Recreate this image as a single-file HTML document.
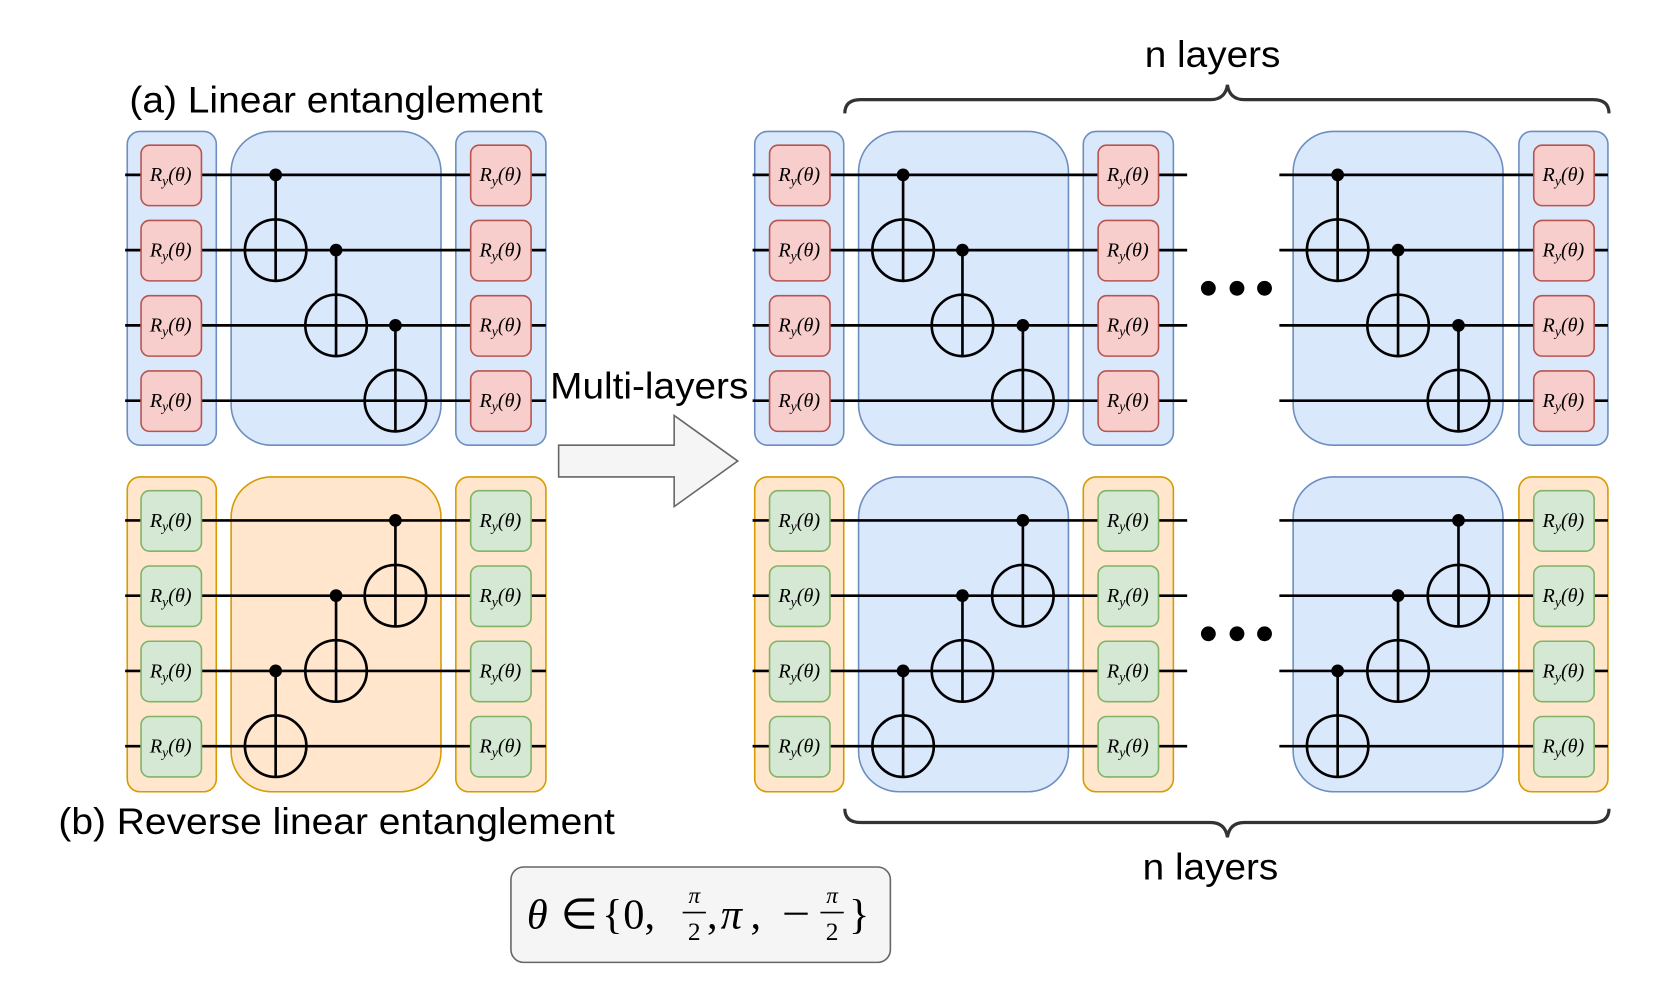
<!DOCTYPE html>
<html><head><meta charset="utf-8"><style>
html,body{margin:0;padding:0;background:#fff;width:1661px;height:991px;overflow:hidden}
svg{display:block}
.t{font-family:"Liberation Sans",sans-serif;font-size:35px;fill:#000}
.g{font-family:"Liberation Serif",serif;font-style:italic;font-size:19px;fill:#000}
.s{font-size:13px}
.bb{fill:#dae8fc;stroke:#6c8ebf;stroke-width:1.5}
.ob{fill:#ffe6cc;stroke:#d79b00;stroke-width:1.5}
.rg{fill:#f8cecc;stroke:#b85450;stroke-width:1.5}
.gg{fill:#d5e8d4;stroke:#82b366;stroke-width:1.5}
.w{stroke:#000;stroke-width:2.5;fill:none}
</style></head><body>
<svg width="1661" height="991" viewBox="0 0 1567 935" xmlns="http://www.w3.org/2000/svg">
<!-- Titles -->
<text class="t" x="122" y="106" textLength="390" lengthAdjust="spacingAndGlyphs">(a) Linear entanglement</text>
<text class="t" x="55" y="787" textLength="525" lengthAdjust="spacingAndGlyphs">(b) Reverse linear entanglement</text>
<text class="t" x="519" y="376" textLength="187" lengthAdjust="spacingAndGlyphs">Multi-layers</text>
<text class="t" x="1080" y="63" textLength="128" lengthAdjust="spacingAndGlyphs">n layers</text>
<text class="t" x="1078" y="830" textLength="128" lengthAdjust="spacingAndGlyphs">n layers</text>
<!-- Braces -->
<path d="M797 107 Q797 94 812 94 L1142 94 Q1156 94 1158 80 Q1160 94 1174 94 L1503 94 Q1518 94 1518 107" fill="none" stroke="#333" stroke-width="3"/>
<path d="M797 763 Q797 776 812 776 L1142 776 Q1156 776 1158 790 Q1160 776 1174 776 L1503 776 Q1518 776 1518 763" fill="none" stroke="#333" stroke-width="3"/>
<!-- Arrow -->
<path d="M527 420 L636 420 L636 392 L696 435 L636 478 L636 450 L527 450 Z" fill="#f5f5f5" stroke="#666" stroke-width="1.5"/>
<!-- Formula -->
<rect x="482" y="818" width="358" height="90" rx="12" fill="#f5f5f5" stroke="#666" stroke-width="1.5"/>
<g font-family="Liberation Serif,serif" font-size="40" fill="#000">
<text x="497" y="876" font-style="italic">θ</text>
<text x="529" y="876">∈</text>
<text x="568" y="876">{</text>
<text x="588" y="876">0,</text>
<text x="655" y="852" font-size="22" text-anchor="middle" font-style="italic">π</text>
<line x1="644" y1="861" x2="666" y2="861" stroke="#000" stroke-width="1.5"/>
<text x="655" y="887" font-size="24" text-anchor="middle">2</text>
<text x="667" y="876">,</text>
<text x="680" y="876" font-style="italic">π</text>
<text x="708" y="876">,</text>
<line x1="740" y1="862" x2="762" y2="862" stroke="#000" stroke-width="2"/>
<text x="785" y="852" font-size="22" text-anchor="middle" font-style="italic">π</text>
<line x1="774" y1="861" x2="796" y2="861" stroke="#000" stroke-width="1.5"/>
<text x="785" y="887" font-size="24" text-anchor="middle">2</text>
<text x="801" y="876">}</text>
</g>

<!-- Column boxes -->
<rect class="bb" x="120" y="124" width="84" height="296" rx="12"/>
<rect class="bb" x="218" y="124" width="198" height="296" rx="38"/>
<rect class="bb" x="430" y="124" width="85" height="296" rx="12"/>
<rect class="ob" x="120" y="450" width="84" height="297" rx="12"/>
<rect class="ob" x="218" y="450" width="198" height="297" rx="38"/>
<rect class="ob" x="430" y="450" width="85" height="297" rx="12"/>

<rect class="bb" x="712" y="124" width="84" height="296" rx="12"/>
<rect class="bb" x="810" y="124" width="198" height="296" rx="38"/>
<rect class="bb" x="1022" y="124" width="85" height="296" rx="12"/>
<rect class="bb" x="1220" y="124" width="198" height="296" rx="38"/>
<rect class="bb" x="1433" y="124" width="84" height="296" rx="12"/>
<rect class="ob" x="712" y="450" width="84" height="297" rx="12"/>
<rect class="bb" x="810" y="450" width="198" height="297" rx="38"/>
<rect class="ob" x="1022" y="450" width="85" height="297" rx="12"/>
<rect class="bb" x="1220" y="450" width="198" height="297" rx="38"/>
<rect class="ob" x="1433" y="450" width="84" height="297" rx="12"/>

<!-- Wires -->
<path class="w" d="M118 165H515M118 236H515M118 307H515M118 378H515M118 491H515M118 562H515M118 633H515M118 704H515
M710 165H1120M710 236H1120M710 307H1120M710 378H1120M710 491H1120M710 562H1120M710 633H1120M710 704H1120
M1207 165H1517M1207 236H1517M1207 307H1517M1207 378H1517M1207 491H1517M1207 562H1517M1207 633H1517M1207 704H1517"/>

<!-- Dots -->
<g fill="#000"><circle cx="1140" cy="272" r="7"/><circle cx="1167" cy="272" r="7"/><circle cx="1193" cy="272" r="7"/>
<circle cx="1140" cy="598" r="7"/><circle cx="1167" cy="598" r="7"/><circle cx="1193" cy="598" r="7"/></g>

<g class="w" fill="none">
<path d="M260 165V265M317 236V336M373 307V407"/><circle cx="260" cy="236" r="29"/><circle cx="317" cy="307" r="29"/><circle cx="373" cy="378" r="29"/>
<path d="M852 165V265M908 236V336M965 307V407"/><circle cx="852" cy="236" r="29"/><circle cx="908" cy="307" r="29"/><circle cx="965" cy="378" r="29"/>
<path d="M1262 165V265M1319 236V336M1376 307V407"/><circle cx="1262" cy="236" r="29"/><circle cx="1319" cy="307" r="29"/><circle cx="1376" cy="378" r="29"/>
<path d="M260 633V733M317 562V662M373 491V591"/><circle cx="260" cy="704" r="29"/><circle cx="317" cy="633" r="29"/><circle cx="373" cy="562" r="29"/>
<path d="M852 633V733M908 562V662M965 491V591"/><circle cx="852" cy="704" r="29"/><circle cx="908" cy="633" r="29"/><circle cx="965" cy="562" r="29"/>
<path d="M1262 633V733M1319 562V662M1376 491V591"/><circle cx="1262" cy="704" r="29"/><circle cx="1319" cy="633" r="29"/><circle cx="1376" cy="562" r="29"/>
</g>
<g fill="#000">
<circle cx="260" cy="165" r="6"/><circle cx="317" cy="236" r="6"/><circle cx="373" cy="307" r="6"/>
<circle cx="852" cy="165" r="6"/><circle cx="908" cy="236" r="6"/><circle cx="965" cy="307" r="6"/>
<circle cx="1262" cy="165" r="6"/><circle cx="1319" cy="236" r="6"/><circle cx="1376" cy="307" r="6"/>
<circle cx="260" cy="633" r="6"/><circle cx="317" cy="562" r="6"/><circle cx="373" cy="491" r="6"/>
<circle cx="852" cy="633" r="6"/><circle cx="908" cy="562" r="6"/><circle cx="965" cy="491" r="6"/>
<circle cx="1262" cy="633" r="6"/><circle cx="1319" cy="562" r="6"/><circle cx="1376" cy="491" r="6"/>
</g>

<g>
<rect class="rg" x="133" y="137" width="57" height="57" rx="8"/><rect class="rg" x="133" y="208" width="57" height="57" rx="8"/><rect class="rg" x="133" y="279" width="57" height="57" rx="8"/><rect class="rg" x="133" y="350" width="57" height="57" rx="8"/>
<rect class="rg" x="444" y="137" width="57" height="57" rx="8"/><rect class="rg" x="444" y="208" width="57" height="57" rx="8"/><rect class="rg" x="444" y="279" width="57" height="57" rx="8"/><rect class="rg" x="444" y="350" width="57" height="57" rx="8"/>
<rect class="rg" x="726" y="137" width="57" height="57" rx="8"/><rect class="rg" x="726" y="208" width="57" height="57" rx="8"/><rect class="rg" x="726" y="279" width="57" height="57" rx="8"/><rect class="rg" x="726" y="350" width="57" height="57" rx="8"/>
<rect class="rg" x="1036" y="137" width="57" height="57" rx="8"/><rect class="rg" x="1036" y="208" width="57" height="57" rx="8"/><rect class="rg" x="1036" y="279" width="57" height="57" rx="8"/><rect class="rg" x="1036" y="350" width="57" height="57" rx="8"/>
<rect class="rg" x="1447" y="137" width="57" height="57" rx="8"/><rect class="rg" x="1447" y="208" width="57" height="57" rx="8"/><rect class="rg" x="1447" y="279" width="57" height="57" rx="8"/><rect class="rg" x="1447" y="350" width="57" height="57" rx="8"/>
<rect class="gg" x="133" y="463" width="57" height="57" rx="8"/><rect class="gg" x="133" y="534" width="57" height="57" rx="8"/><rect class="gg" x="133" y="605" width="57" height="57" rx="8"/><rect class="gg" x="133" y="676" width="57" height="57" rx="8"/>
<rect class="gg" x="444" y="463" width="57" height="57" rx="8"/><rect class="gg" x="444" y="534" width="57" height="57" rx="8"/><rect class="gg" x="444" y="605" width="57" height="57" rx="8"/><rect class="gg" x="444" y="676" width="57" height="57" rx="8"/>
<rect class="gg" x="726" y="463" width="57" height="57" rx="8"/><rect class="gg" x="726" y="534" width="57" height="57" rx="8"/><rect class="gg" x="726" y="605" width="57" height="57" rx="8"/><rect class="gg" x="726" y="676" width="57" height="57" rx="8"/>
<rect class="gg" x="1036" y="463" width="57" height="57" rx="8"/><rect class="gg" x="1036" y="534" width="57" height="57" rx="8"/><rect class="gg" x="1036" y="605" width="57" height="57" rx="8"/><rect class="gg" x="1036" y="676" width="57" height="57" rx="8"/>
<rect class="gg" x="1447" y="463" width="57" height="57" rx="8"/><rect class="gg" x="1447" y="534" width="57" height="57" rx="8"/><rect class="gg" x="1447" y="605" width="57" height="57" rx="8"/><rect class="gg" x="1447" y="676" width="57" height="57" rx="8"/>
</g>
<g class="g" text-anchor="middle">
<text x="161" y="171">R<tspan class="s" dy="4">y</tspan><tspan dy="-4">(θ)</tspan></text><text x="161" y="242">R<tspan class="s" dy="4">y</tspan><tspan dy="-4">(θ)</tspan></text><text x="161" y="313">R<tspan class="s" dy="4">y</tspan><tspan dy="-4">(θ)</tspan></text><text x="161" y="384">R<tspan class="s" dy="4">y</tspan><tspan dy="-4">(θ)</tspan></text>
<text x="472" y="171">R<tspan class="s" dy="4">y</tspan><tspan dy="-4">(θ)</tspan></text><text x="472" y="242">R<tspan class="s" dy="4">y</tspan><tspan dy="-4">(θ)</tspan></text><text x="472" y="313">R<tspan class="s" dy="4">y</tspan><tspan dy="-4">(θ)</tspan></text><text x="472" y="384">R<tspan class="s" dy="4">y</tspan><tspan dy="-4">(θ)</tspan></text>
<text x="754" y="171">R<tspan class="s" dy="4">y</tspan><tspan dy="-4">(θ)</tspan></text><text x="754" y="242">R<tspan class="s" dy="4">y</tspan><tspan dy="-4">(θ)</tspan></text><text x="754" y="313">R<tspan class="s" dy="4">y</tspan><tspan dy="-4">(θ)</tspan></text><text x="754" y="384">R<tspan class="s" dy="4">y</tspan><tspan dy="-4">(θ)</tspan></text>
<text x="1064" y="171">R<tspan class="s" dy="4">y</tspan><tspan dy="-4">(θ)</tspan></text><text x="1064" y="242">R<tspan class="s" dy="4">y</tspan><tspan dy="-4">(θ)</tspan></text><text x="1064" y="313">R<tspan class="s" dy="4">y</tspan><tspan dy="-4">(θ)</tspan></text><text x="1064" y="384">R<tspan class="s" dy="4">y</tspan><tspan dy="-4">(θ)</tspan></text>
<text x="1475" y="171">R<tspan class="s" dy="4">y</tspan><tspan dy="-4">(θ)</tspan></text><text x="1475" y="242">R<tspan class="s" dy="4">y</tspan><tspan dy="-4">(θ)</tspan></text><text x="1475" y="313">R<tspan class="s" dy="4">y</tspan><tspan dy="-4">(θ)</tspan></text><text x="1475" y="384">R<tspan class="s" dy="4">y</tspan><tspan dy="-4">(θ)</tspan></text>
<text x="161" y="497">R<tspan class="s" dy="4">y</tspan><tspan dy="-4">(θ)</tspan></text><text x="161" y="568">R<tspan class="s" dy="4">y</tspan><tspan dy="-4">(θ)</tspan></text><text x="161" y="639">R<tspan class="s" dy="4">y</tspan><tspan dy="-4">(θ)</tspan></text><text x="161" y="710">R<tspan class="s" dy="4">y</tspan><tspan dy="-4">(θ)</tspan></text>
<text x="472" y="497">R<tspan class="s" dy="4">y</tspan><tspan dy="-4">(θ)</tspan></text><text x="472" y="568">R<tspan class="s" dy="4">y</tspan><tspan dy="-4">(θ)</tspan></text><text x="472" y="639">R<tspan class="s" dy="4">y</tspan><tspan dy="-4">(θ)</tspan></text><text x="472" y="710">R<tspan class="s" dy="4">y</tspan><tspan dy="-4">(θ)</tspan></text>
<text x="754" y="497">R<tspan class="s" dy="4">y</tspan><tspan dy="-4">(θ)</tspan></text><text x="754" y="568">R<tspan class="s" dy="4">y</tspan><tspan dy="-4">(θ)</tspan></text><text x="754" y="639">R<tspan class="s" dy="4">y</tspan><tspan dy="-4">(θ)</tspan></text><text x="754" y="710">R<tspan class="s" dy="4">y</tspan><tspan dy="-4">(θ)</tspan></text>
<text x="1064" y="497">R<tspan class="s" dy="4">y</tspan><tspan dy="-4">(θ)</tspan></text><text x="1064" y="568">R<tspan class="s" dy="4">y</tspan><tspan dy="-4">(θ)</tspan></text><text x="1064" y="639">R<tspan class="s" dy="4">y</tspan><tspan dy="-4">(θ)</tspan></text><text x="1064" y="710">R<tspan class="s" dy="4">y</tspan><tspan dy="-4">(θ)</tspan></text>
<text x="1475" y="497">R<tspan class="s" dy="4">y</tspan><tspan dy="-4">(θ)</tspan></text><text x="1475" y="568">R<tspan class="s" dy="4">y</tspan><tspan dy="-4">(θ)</tspan></text><text x="1475" y="639">R<tspan class="s" dy="4">y</tspan><tspan dy="-4">(θ)</tspan></text><text x="1475" y="710">R<tspan class="s" dy="4">y</tspan><tspan dy="-4">(θ)</tspan></text>
</g>
</svg>
</body></html>
